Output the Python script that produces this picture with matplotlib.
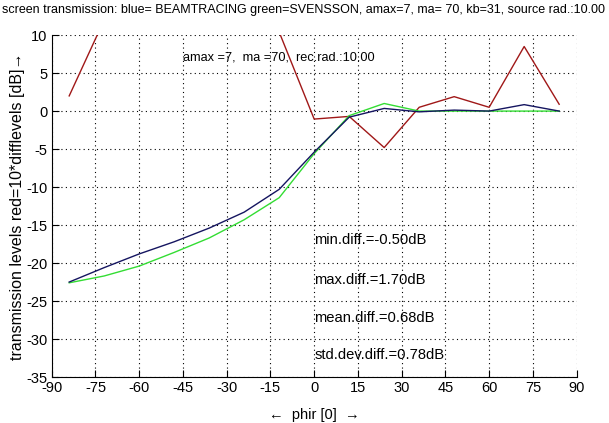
import matplotlib
matplotlib.use("Agg")
import matplotlib.pyplot as plt

# angles of the receiver positions
phir = [-84, -72, -60, -48, -36, -24, -12, 0, 12, 24, 36, 48, 60, 72, 84]

# transmission levels [dB]
beamtracing = [-22.5, -20.6, -18.8, -17.2, -15.4, -13.3, -10.3, -5.4, -0.8, 0.35, -0.1, 0.13, 0.0, 0.85, 0.0]
svensson = [-22.6, -21.7, -20.4, -18.6, -16.7, -14.3, -11.4, -5.6, -0.6, 1.0, 0.0, 0.0, 0.0, 0.0, 0.0]
# 10 * difference levels
diff10 = [2.0, 12.0, 16.0, 15.5, 13.0, 10.5, 10.4, -1.05, -0.7, -4.8, 0.5, 1.9, 0.5, 8.5, 0.9]

stats = ["min.diff.=-0.50dB", "max.diff.=1.70dB", "mean.diff.=0.68dB", "std.dev.diff.=0.78dB"]
stats_y = [-17, -22.2, -27.2, -32.1]

plt.rcParams['font.family'] = ['Liberation Sans', 'DejaVu Sans']
plt.rcParams['axes.unicode_minus'] = False

fig = plt.figure(figsize=(6.09, 4.23), dpi=100)
ax = fig.add_axes([0.0849, 0.1087, 0.862, 0.8083])

ax.plot(phir, diff10, color='#a01818', lw=1.0)
ax.plot(phir, svensson, color='#33dd33', lw=1.0)
ax.plot(phir, beamtracing, color='#151560', lw=1.0)

ax.set_xlim(-90, 90)
ax.set_ylim(-35, 10)
ax.set_xticks(range(-90, 91, 15))
ax.set_yticks(range(-35, 11, 5))
ax.grid(True, color='black', linestyle=(0, (1, 3)), linewidth=0.8)
ax.spines['top'].set_visible(False)
ax.spines['right'].set_visible(False)
ax.tick_params(direction='in', length=5, labelsize=10.5, pad=3)

ax.text(-45, 7, "amax =7,  ma =70,  rec.rad.:10.00", fontsize=9.2, va='center')
for s, y in zip(stats, stats_y):
    ax.text(0, y, s, fontsize=10.6, va='center')

fig.text(0.003, 0.976, "screen transmission: blue= BEAMTRACING green=SVENSSON, amax=7, ma= 70, kb=31, source rad.:10.00",
         fontsize=9.0, va='center', ha='left')
ax.set_xlabel("\u2190  phir [0]  \u2192", fontsize=10.5, labelpad=9)
ax.set_ylabel("transmission levels red=10*difflevels [dB]\u2192", fontsize=11.5, labelpad=1)

fig.savefig("out.png", dpi=100)
